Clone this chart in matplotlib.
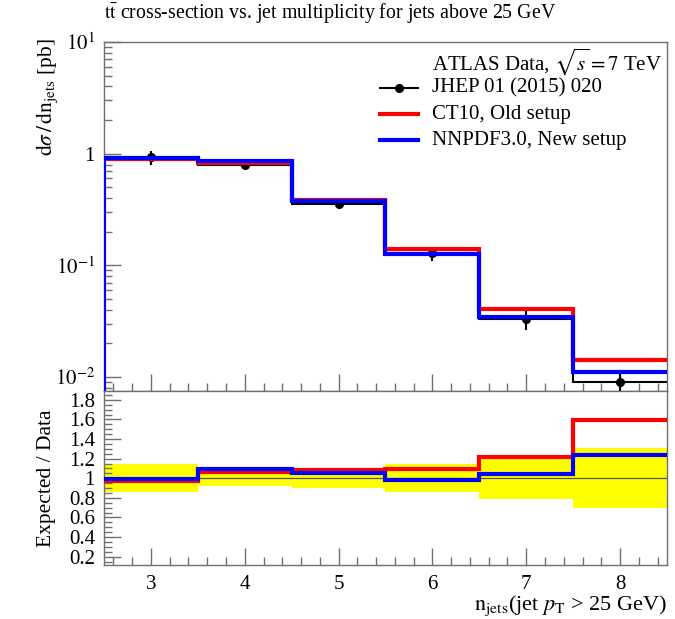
import numpy as np
import matplotlib
matplotlib.use('Agg')
import matplotlib.pyplot as plt
from matplotlib.ticker import MultipleLocator, LogLocator, FixedLocator, FuncFormatter, NullFormatter

# jet multiplicity bins
njets = [3, 4, 5, 6, 7, 8]
edges = [2.5, 3.5, 4.5, 5.5, 6.5, 7.5, 8.5]

# measured cross-section [pb] and relative uncertainty
data = [0.925, 0.785, 0.356, 0.128, 0.0331, 0.00895]
data_relerr = [0.145, 0.075, 0.095, 0.145, 0.21, 0.305]

# expected / data for both setups
ratio_ct10 = [0.975, 1.06, 1.08, 1.095, 1.22, 1.59]
ratio_nnpdf = [0.995, 1.09, 1.05, 0.985, 1.04, 1.24]

labels = ['JHEP 01 (2015) 020', 'CT10, Old setup', 'NNPDF3.0, New setup']

plt.rcParams['font.family'] = ['Liberation Serif', 'DejaVu Serif']
plt.rcParams['mathtext.fontset'] = 'stix'

data = np.array(data)
relerr = np.array(data_relerr)
ct10 = data * np.array(ratio_ct10)
nnpdf = data * np.array(ratio_nnpdf)

W, H = 675, 619
fig = plt.figure(figsize=(W / 100, H / 100), dpi=100)
ax = fig.add_axes([104 / W, 1 - 391 / H, 563 / W, 349 / H])
rax = fig.add_axes([104 / W, 1 - 565 / H, 563 / W, 174 / H], sharex=ax)

grey = '#707070'
fs_tick = 15
fs_leg = 15
fs_lab = 15.5

# main panel
ymin = 0.0075
ax.stairs(data, edges, baseline=None, color='black', lw=1.5, zorder=2)
ax.errorbar(njets, data, yerr=data * relerr, fmt='o', color='black', ms=5.5, elinewidth=1.5, capsize=0, zorder=3)
ax.stairs(ct10, edges, baseline=None, color='red', lw=3, zorder=4)
ax.stairs(nnpdf, edges, baseline=None, color='blue', lw=3, zorder=5)
ax.vlines(edges[0], ymin, nnpdf[0], color='blue', lw=3, zorder=5)
ax.set_yscale('log')
ax.set_ylim(ymin, 10)
ax.set_xlim(edges[0], edges[-1])

ax.yaxis.set_major_locator(FixedLocator([0.01, 0.1, 1, 10]))
ax.yaxis.set_major_formatter(FuncFormatter(lambda v, p: '1' if v == 1 else r'$10^{%d}$' % round(np.log10(v))))
ax.yaxis.set_minor_locator(LogLocator(base=10, subs=np.arange(2, 10)))
ax.yaxis.set_minor_formatter(NullFormatter())
ax.tick_params(axis='x', labelbottom=False)

# ratio panel
rax.stairs(1 + relerr, edges, baseline=1 - relerr, fill=True, color='yellow', lw=0, zorder=1)
rax.axhline(1, color='#555555', lw=0.9, zorder=2)
rax.stairs(ratio_ct10, edges, baseline=None, color='red', lw=3, zorder=4)
rax.stairs(ratio_nnpdf, edges, baseline=None, color='blue', lw=3, zorder=5)
rax.set_ylim(0.115, 1.89)
rax.yaxis.set_major_locator(MultipleLocator(0.2))
rax.yaxis.set_minor_locator(MultipleLocator(0.05))
rax.yaxis.set_major_formatter(FuncFormatter(lambda v, p: '%g' % round(v, 1)))
rax.xaxis.set_major_locator(FixedLocator(njets))
rax.xaxis.set_minor_locator(MultipleLocator(0.2))

for a in (ax, rax):
    for s in a.spines.values():
        s.set_color(grey)
        s.set_linewidth(1)
    a.tick_params(which='both', direction='in', color=grey, top=False, right=False, labelsize=fs_tick)
    a.tick_params(which='major', length=12, width=1)
    a.tick_params(which='minor', length=5.5, width=1)
    a.tick_params(axis='y', pad=6.5)
rax.tick_params(axis='x', pad=7)

# legend drawn by hand in axes fraction
x_line0, x_line1, x_text = (380 - 104) / 563, (418 - 104) / 563, (432 - 104) / 563
rows = [(391 - y) / 349 for y in (62, 88, 114, 140)]
ax.text(x_text, rows[0], r'ATLAS Data, $\sqrt{s}=7$ TeV', transform=ax.transAxes, va='center', fontsize=fs_leg)
for (lab, col), yr in zip(zip(labels, ['black', 'red', 'blue']), rows[1:]):
    ax.plot([x_line0, x_line1], [yr, yr], color=col, lw=1.5 if col == 'black' else 3, transform=ax.transAxes)
    ax.text(x_text, yr, lab, transform=ax.transAxes, va='center', fontsize=fs_leg)
ax.plot([(x_line0 + x_line1) / 2], [rows[1]], 'o', color='black', ms=5.5, transform=ax.transAxes)

# titles and axis labels
fig.text(104 / W, 1 - 14 / H, r'$\mathrm{t\bar{t}}$ cross-section vs. jet multiplicity for jets above 25 GeV',
         ha='left', va='center', fontsize=14.3)
fig.text(47 / W, 1 - 38 / H, r'$\mathrm{d}\sigma\,/\,\mathrm{dn}_{\mathrm{jets}}$ [pb]', rotation=90,
         ha='center', va='top', fontsize=fs_lab)
fig.text(47 / W, 1 - 478 / H, 'Expected / Data', rotation=90, ha='center', va='center', fontsize=fs_lab)
fig.text(667 / W, 1 - 606 / H, r'$\mathrm{n}_{\mathrm{jets}}$(jet $p_{\mathrm{T}}$ > 25 GeV)',
         ha='right', va='center', fontsize=16)

fig.savefig('out.png', dpi=100)
